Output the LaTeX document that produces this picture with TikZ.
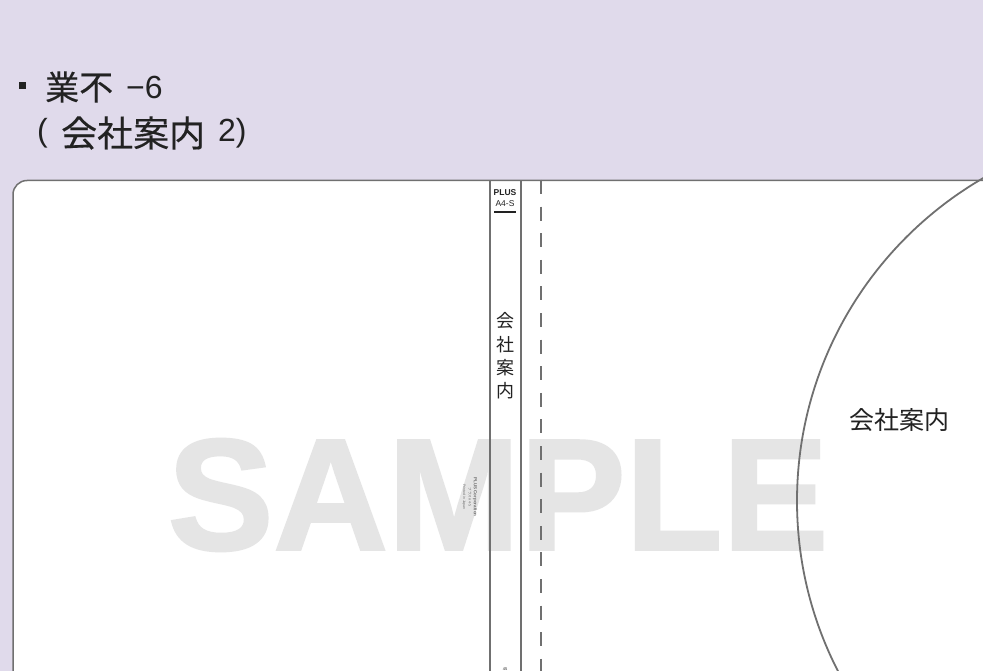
\documentclass[tikz,border=0pt]{standalone}
\usepackage{fontspec}
\setmainfont{Liberation Sans}
\newfontfamily\cjk[FakeBold=0.35]{Noto Sans CJK JP}
\newfontfamily\cjklight{Noto Sans CJK JP}
\newfontfamily\wmfont[FakeBold=1.6]{Liberation Sans Bold}
\definecolor{bgpurple}{HTML}{E0DAEB}
\definecolor{linegray}{HTML}{707070}
\definecolor{watermark}{HTML}{E5E5E5}
\definecolor{ink}{HTML}{222222}
\tikzset{
  titletext/.style={anchor=west,inner sep=0pt,text=ink,font=\cjk\fontsize{34}{34}\selectfont},
  titletextwide/.style={anchor=west,inner sep=0pt,text=ink,font=\cjk\fontsize{36}{36}\selectfont},
  titlelatin/.style={anchor=west,inner sep=0pt,text=ink,font=\fontsize{32}{32}\selectfont},
  edge/.style={draw=linegray,line width=1.5pt},
  spinechar/.style={inner sep=0pt,text=ink,font=\cjklight\fontsize{18}{18}\selectfont},
}
\begin{document}
\begin{tikzpicture}[x=1pt,y=-1pt]
\useasboundingbox (0,0) rectangle (983,671);
\fill[bgpurple] (0,0) rectangle (983,671);
\begin{scope}
\clip (0,0) rectangle (983,671);
\path[fill=white,edge,rounded corners=14pt] (13,700) -- (13,180.5) -- (1010,180.5) -- (1010,700) -- cycle;
\node[inner sep=0pt,text=watermark,font=\wmfont\fontsize{158.5}{158.5}\selectfont] (sample) at (498,495) {SAMPLE};
\draw[edge,line width=1.8pt] (1170,501) circle[radius=373];
\draw[edge] (490,180.5) -- (490,680);
\draw[edge] (521,180.5) -- (521,680);
\draw[draw=linegray,line width=1.3pt,dash pattern=on 14pt off 12.6pt] (541,180) -- (541,680);
\end{scope}
\fill[ink] (19,82) rectangle (26,89);
\node[titletext] (title1) at (45,87) {業不};
\node[titlelatin] (title1b) at (126,87) {−6};
\node[titlelatin] (title2a) at (37,133) {(};
\node[titletextwide] (title2) at (61,133) {会社案内};
\node[titlelatin] (title2b) at (218,133) {2)};
\node[inner sep=0pt,text=ink,font=\bfseries\fontsize{8.5}{8.5}\selectfont] (plus) at (505,193) {PLUS};
\node[inner sep=0pt,text=ink,font=\fontsize{8.5}{8.5}\selectfont] (a4) at (505,204) {A4-S};
\draw[ink,line width=2.2pt] (494,212) -- (516,212);
\node[spinechar] (c1) at (505,321) {会};
\node[spinechar] (c2) at (505,345) {社};
\node[spinechar] (c3) at (505,368) {案};
\node[spinechar] (c4) at (505,391) {内};
\node[inner sep=0pt,text=ink,font=\cjklight\fontsize{25}{25}\selectfont] (label) at (899,420) {会社案内};
\node[inner sep=0pt,rotate=-90,text=linegray,font=\bfseries\fontsize{4.5}{4.5}\selectfont] (corp) at (475,497) {PLUS Corporation};
\node[inner sep=0pt,rotate=-90,text=linegray,font=\cjklight\fontsize{3.5}{3.5}\selectfont] (corp2) at (470,497) {プラス A4-S};
\node[inner sep=0pt,rotate=-90,text=linegray,font=\fontsize{3.5}{3.5}\selectfont] (corp3) at (464,497) {Printed in Japan};
\node[inner sep=0pt,text=ink,font=\fontsize{4}{4}\selectfont] (foot) at (505,669) {45};
\end{tikzpicture}
\end{document}
